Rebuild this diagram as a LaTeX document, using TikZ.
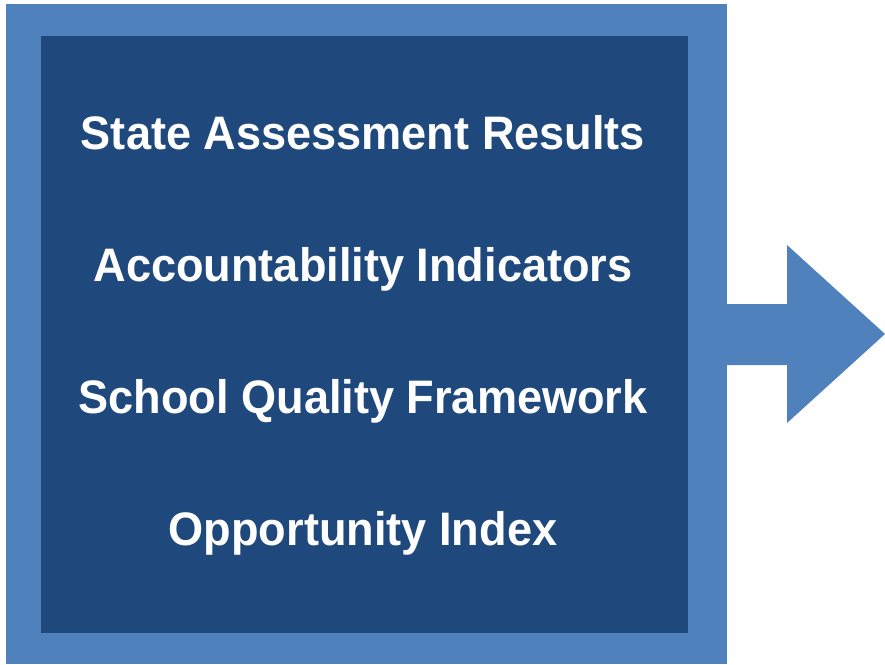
\documentclass[tikz,border=0pt]{standalone}
\usepackage{fontspec}
\setmainfont{Liberation Sans}
\newfontfamily\itemfont[FakeStretch=0.96]{Liberation Sans}
\definecolor{frameblue}{HTML}{4F81BD}
\definecolor{panelnavy}{HTML}{1F497C}
\begin{document}
\begin{tikzpicture}[x=1pt,y=-1pt,
  item/.style={text=white,font=\itemfont\fontsize{47}{52}\selectfont\bfseries,anchor=base,inner sep=0pt}]
\useasboundingbox (0,0) rectangle (885,664);
% outer frame and arrow
\fill[frameblue] (6,4) rectangle (727,664);
\fill[frameblue] (720,304) -- (787,304) -- (787,245) -- (885,334) -- (787,423) -- (787,365) -- (720,365) -- cycle;
% inner panel
\fill[panelnavy] (41,36) rectangle (688,633);
\node[item] (t1) at (363,149) {State Assessment Results};
\node[item] (t2) at (363,281) {Accountability Indicators};
\node[item] (t3) at (363,413) {School Quality Framework};
\node[item] (t4) at (363,545) {Opportunity Index};
\end{tikzpicture}
\end{document}
